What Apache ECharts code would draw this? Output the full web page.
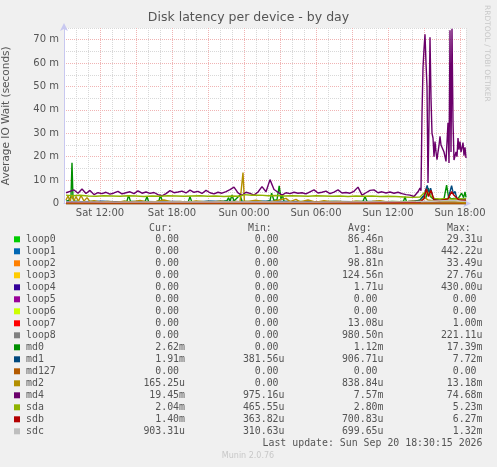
<!DOCTYPE html>
<html>
<head>
<meta charset="utf-8">
<script src="https://cdn.jsdelivr.net/npm/echarts@6/dist/echarts.min.js"></script>
<style>
  html, body { margin: 0; padding: 0; background: #f0f0f0; }
  #chart { width: 497px; height: 467px; }
</style>
</head>
<body>
<div id="chart"></div>
<script>
// times are minutes since Sat 00:00, values in milliseconds (m)
const names = ['loop0', 'loop1', 'loop2', 'loop3', 'loop4', 'loop5', 'loop6', 'loop7', 'loop8',
  'md0', 'md1', 'md127', 'md2', 'md4', 'sda', 'sdb', 'sdc'];
const colors = ['#00cc00', '#0066b3', '#ff8000', '#ffcc00', '#330099', '#990099', '#ccff00', '#ff0000', '#808080',
  '#008f00', '#00487d', '#b35a00', '#b38f00', '#6b006b', '#8fb300', '#b30000', '#bebebe'];

const curVals = ['0.00', '0.00', '0.00', '0.00', '0.00', '0.00', '0.00', '0.00', '0.00',
  '2.62m', '1.91m', '0.00', '165.25u', '19.45m', '2.04m', '1.40m', '903.31u'];
const minVals = ['0.00', '0.00', '0.00', '0.00', '0.00', '0.00', '0.00', '0.00', '0.00',
  '0.00', '381.56u', '0.00', '0.00', '975.16u', '465.55u', '363.82u', '310.63u'];
const avgVals = ['86.46n', '1.88u', '98.81n', '124.56n', '1.71u', '0.00', '0.00', '13.08u', '980.50n',
  '1.12m', '906.71u', '0.00', '838.84u', '7.57m', '2.80m', '700.83u', '699.65u'];
const maxVals = ['29.31u', '442.22u', '33.49u', '27.76u', '430.00u', '0.00', '0.00', '1.00m', '221.11u',
  '17.39m', '7.72m', '0.00', '13.18m', '74.68m', '5.23m', '6.27m', '1.32m'];

// loop devices and md127 stay at (practically) zero
const flatZero = [[550, 0], [2550, 0]];

const md0 = [[550,0.9],[565,1.4],[575,3.0],[580,17.39],[585,2.0],[595,1.0],[630,0.6],[670,0.9],[710,0.7],[750,0.8],
  [790,0.5],[830,0.8],[855,1.0],[863,3.6],[872,1.0],[910,0.7],[945,0.8],[955,2.9],[963,0.8],[1000,0.7],[1015,1.2],
  [1022,3.6],[1030,1.4],[1060,0.7],[1100,0.6],[1140,0.8],[1162,0.9],[1170,2.9],[1178,0.9],[1220,0.7],[1260,0.9],
  [1300,0.8],[1340,1.0],[1355,1.2],[1363,2.5],[1370,1.0],[1380,3.6],[1390,1.1],[1420,3.6],[1430,1.0],[1470,0.8],
  [1510,0.9],[1550,0.8],[1570,1.2],[1578,4.4],[1590,1.3],[1605,1.6],[1616,7.5],[1625,2.0],[1632,3.6],[1640,1.0],
  [1680,0.8],[1720,0.9],[1760,0.7],[1800,0.8],[1840,0.7],[1880,0.9],[1920,0.8],[1960,0.7],[2000,0.9],[2035,1.0],
  [2045,3.0],[2055,0.9],[2100,0.8],[2140,0.7],[2180,0.9],[2220,0.8],[2238,1.0],[2245,2.9],[2252,0.9],[2290,0.8],
  [2320,1.5],[2335,3.0],[2350,2.5],[2362,6.5],[2372,3.0],[2385,2.0],[2400,1.5],[2420,1.5],[2440,2.0],[2453,7.9],
  [2462,3.0],[2475,2.0],[2490,2.2],[2510,2.0],[2528,4.4],[2538,2.5],[2545,5.0],[2550,2.62]];

const md1 = [[550,0.9],[640,0.8],[730,1.0],[820,0.7],[910,0.9],[1000,0.8],[1090,0.9],[1180,0.7],[1270,1.0],
  [1360,0.9],[1450,0.8],[1540,1.0],[1630,0.9],[1720,0.8],[1810,0.7],[1900,0.9],[1990,0.8],[2080,0.9],[2170,0.8],
  [2260,0.9],[2320,1.2],[2340,3.5],[2356,7.72],[2365,4.0],[2373,6.5],[2385,2.5],[2400,1.5],[2430,1.3],[2460,2.0],
  [2470,5.0],[2478,7.6],[2487,4.0],[2495,5.2],[2505,2.0],[2530,1.8],[2550,1.91]];

const md2 = [[550,1.5],[560,3.2],[570,1.0],[580,3.5],[590,1.2],[600,3.0],[612,0.9],[625,3.4],[640,1.0],[655,2.5],
  [670,0.8],[690,1.2],[720,0.6],[760,0.9],[800,0.5],[840,1.0],[880,0.7],[920,1.3],[960,0.6],[1000,0.9],[1040,1.5],
  [1080,0.7],[1120,0.9],[1160,0.6],[1200,1.1],[1240,0.8],[1280,0.6],[1320,1.0],[1360,0.7],[1400,0.9],[1420,0.7],
  [1430,1.0],[1435,13.18],[1442,0.9],[1460,0.9],[1500,1.4],[1540,0.7],[1580,0.8],[1620,1.6],[1650,2.2],[1670,0.8],
  [1700,1.8],[1720,0.7],[1760,1.5],[1800,0.6],[1840,1.2],[1880,0.8],[1920,0.9],[1960,0.6],[2000,1.0],[2040,0.7],
  [2080,0.9],[2120,1.2],[2160,0.6],[2200,0.8],[2240,0.7],[2280,1.0],[2320,0.9],[2345,2.5],[2360,1.5],[2400,1.0],
  [2440,0.8],[2480,0.9],[2520,0.6],[2550,0.17]];

const md4 = [[550,4.6],[570,5.2],[590,5.8],[610,4.4],[630,6.2],[650,4.3],[670,5.6],[690,3.8],[710,4.6],[730,4.2],
  [750,4.8],[770,4.0],[790,4.5],[810,5.2],[830,4.1],[850,4.6],[870,5.0],[890,4.2],[910,5.4],[930,4.4],[950,4.9],
  [970,4.3],[990,4.7],[1010,3.8],[1030,3.3],[1050,4.2],[1070,5.5],[1090,4.6],[1110,4.9],[1130,5.3],[1150,4.5],
  [1170,5.7],[1190,4.8],[1210,5.2],[1230,4.3],[1250,5.6],[1270,4.6],[1290,4.1],[1310,4.8],[1330,4.4],[1350,5.1],
  [1370,5.9],[1390,7.0],[1410,4.5],[1430,3.5],[1450,4.8],[1470,4.3],[1490,3.6],[1510,4.9],[1530,7.2],[1550,5.0],
  [1570,10.2],[1590,6.0],[1610,4.8],[1630,3.6],[1650,4.6],[1670,4.2],[1690,4.8],[1710,4.4],[1730,4.6],[1750,4.1],
  [1770,5.0],[1790,5.8],[1810,4.5],[1830,4.8],[1850,5.3],[1870,4.2],[1890,4.9],[1910,5.8],[1930,4.5],[1950,4.7],
  [1970,4.4],[1990,5.2],[2010,7.0],[2030,3.6],[2050,4.6],[2070,5.6],[2090,5.8],[2110,4.6],[2130,5.0],[2150,4.5],
  [2170,4.9],[2190,4.4],[2210,4.8],[2230,4.2],[2250,3.8],[2270,3.6],[2290,3.0],[2310,5.0],
  [2320,6.6],[2325,5.5],[2330,38],[2335,58],[2340,66],[2345,72.3],[2350,60],[2355,50],[2360,8.8],[2365,35],
  [2370,71],[2375,45],[2380,30],[2385,28],[2390,20],[2395,26.5],[2400,22],[2405,18.7],[2410,22],[2415,24.8],
  [2420,28.7],[2425,25],[2430,24.4],[2435,25.8],[2440,22],[2445,20],[2450,18],[2455,17.2],[2460,34.5],[2465,17.3],
  [2470,74.0],[2475,22],[2480,74.68],[2485,35],[2490,18.6],[2495,19],[2500,22],[2505,20],[2510,28],[2515,23],
  [2520,26.5],[2525,22],[2530,23.8],[2535,26],[2540,20.4],[2545,24],[2550,19.45]];

const sda = [[550,3.6],[580,3.3],[620,3.5],[660,3.2],[700,3.1],[740,3.3],[780,3.2],[820,3.1],[860,3.3],[900,3.2],
  [940,3.0],[980,3.2],[1020,3.1],[1060,3.3],[1100,3.2],[1140,3.1],[1180,3.2],[1220,3.3],[1260,3.1],[1300,3.2],
  [1340,3.0],[1380,3.2],[1420,3.1],[1440,3.8],[1480,3.5],[1520,3.6],[1560,3.3],[1600,3.4],[1640,3.2],[1680,3.3],
  [1720,3.2],[1760,3.1],[1800,3.3],[1840,3.2],[1880,3.1],[1920,3.2],[1960,3.0],[2000,3.2],[2040,3.1],[2080,3.2],
  [2120,3.0],[2160,3.1],[2200,3.0],[2240,2.8],[2280,2.6],[2320,2.8],[2340,4.5],[2355,5.23],[2370,3.5],[2390,2.2],
  [2420,1.9],[2450,2.1],[2480,1.8],[2510,2.0],[2530,1.9],[2550,2.04]];

const sdb = [[550,0.5],[700,0.45],[850,0.5],[1000,0.4],[1150,0.5],[1300,0.45],[1450,0.5],[1600,0.4],[1750,0.5],
  [1900,0.45],[2050,0.5],[2200,0.45],[2320,0.6],[2340,2.0],[2352,6.27],[2362,3.0],[2375,5.6],[2390,1.5],[2420,1.2],
  [2460,2.0],[2478,5.1],[2490,3.5],[2500,4.0],[2515,1.5],[2535,1.3],[2550,1.40]];

const sdc = [[550,0.7],[800,0.6],[1050,0.7],[1300,0.65],[1550,0.7],[1800,0.6],[2050,0.7],[2300,0.8],[2400,1.1],
  [2480,1.3],[2550,0.9]];

const seriesData = [flatZero, flatZero, flatZero, flatZero, flatZero, flatZero, flatZero, flatZero, flatZero,
  md0, md1, flatZero, md2, md4, sda, sdb, sdc];

const chart = echarts.init(document.getElementById('chart'));

const sans = 'DejaVu Sans';
const mono = 'DejaVu Sans Mono';
const textColor = '#555';
const redGrid = '#f0b4b4';
const grayGrid = '#d8d8d8';

function pad(n) { return (n < 10 ? '0' : '') + n; }

// legend table below the plot
const graphics = [];
const rowY0 = 239.3, rowStep = 12;
const colRight = [185, 284.5, 383.5, 482.5];
const headers = ['Cur:', 'Min:', 'Avg:', 'Max:'];
const headerX = [149, 248, 348, 447];
const charW = 5.96;
headers.forEach((h, j) => {
  graphics.push({ type: 'text', x: headerX[j], y: 228,
    style: { text: h, font: '9.9px "' + mono + '"', fill: textColor, textAlign: 'left', textVerticalAlign: 'middle' } });
});
names.forEach((n, i) => {
  const y = rowY0 + i * rowStep;
  graphics.push({ type: 'rect', shape: { x: 14, y: y - 3, width: 6, height: 6 }, style: { fill: colors[i] } });
  graphics.push({ type: 'text', x: 26, y: y,
    style: { text: n, font: '9.9px "' + mono + '"', fill: textColor, textAlign: 'left', textVerticalAlign: 'middle' } });
  [curVals, minVals, avgVals, maxVals].forEach((col, j) => {
    const v = col[i];
    const hasUnit = /[a-z]$/i.test(v);
    graphics.push({ type: 'text', x: colRight[j] - (hasUnit ? 0 : charW), y: y,
      style: { text: v, font: '9.9px "' + mono + '"', fill: textColor, textAlign: 'right', textVerticalAlign: 'middle' } });
  });
});
graphics.push({ type: 'text', x: 482.5, y: 443,
  style: { text: 'Last update: Sun Sep 20 18:30:15 2026', font: '9.9px "' + mono + '"', fill: textColor,
    textAlign: 'right', textVerticalAlign: 'middle' } });
graphics.push({ type: 'text', x: 248, y: 456,
  style: { text: 'Munin 2.0.76', font: '8px "' + sans + '"', fill: '#c8c8c8', textAlign: 'center', textVerticalAlign: 'middle' } });
graphics.push({ type: 'text', x: 487, y: 5, rotation: -Math.PI / 2,
  style: { text: 'RRDTOOL / TOBI OETIKER', font: '7.5px "' + sans + '"', fill: '#c8c8c8', textAlign: 'left', textVerticalAlign: 'middle' } });

const options = {
  animation: false,
  backgroundColor: '#f0f0f0',
  title: {
    text: 'Disk latency per device - by day',
    left: 'center',
    top: 11,
    padding: 0,
    textStyle: { fontFamily: sans, fontSize: 12.5, fontWeight: 'normal', color: textColor },
  },
  grid: {
    left: 64, right: 31, top: 28, bottom: 263.5,
    outerBoundsMode: 'none',
    containLabel: false,
    show: true, backgroundColor: '#ffffff', borderWidth: 0,
  },
  xAxis: {
    type: 'value',
    min: 540,
    max: 2550,
    interval: 60,
    axisLine: { show: true, lineStyle: { color: '#c8c8f0', width: 1 }, symbol: ['none', 'arrow'], symbolSize: [6, 8], symbolOffset: [0, 5] },
    axisTick: { show: false },
    axisLabel: {
      margin: 5,
      fontFamily: sans, fontSize: 10, color: textColor,
      formatter: (v) => {
        if (v % 360 !== 0) return '';
        const day = v < 1440 ? 'Sat' : 'Sun';
        return day + ' ' + pad(Math.floor(v / 60) % 24) + ':00';
      },
    },
    splitLine: { show: true, lineStyle: { type: 'dotted', width: 1, color: [redGrid, grayGrid, grayGrid] } },
  },
  yAxis: {
    type: 'value',
    min: 0,
    max: 75,
    interval: 5,
    name: 'Average IO Wait (seconds)',
    nameLocation: 'middle',
    nameGap: 52,
    nameTextStyle: { fontFamily: sans, fontSize: 10.5, color: textColor },
    axisLine: { show: true, lineStyle: { color: '#c8c8f0', width: 1 }, symbol: ['none', 'arrow'], symbolSize: [6, 8], symbolOffset: [0, 5] },
    axisTick: { show: false },
    axisLabel: {
      margin: 5,
      fontFamily: sans, fontSize: 10, color: textColor,
      formatter: (v) => (v % 10 !== 0 ? '' : (v === 0 ? '0' : v + ' m')),
    },
    splitLine: { show: true, lineStyle: { type: 'dotted', width: 1, color: [redGrid, grayGrid] } },
  },
  series: names.map((n, i) => ({
    name: n,
    type: 'line',
    data: seriesData[i],
    showSymbol: false,
    silent: true,
    lineStyle: { width: 1.4, color: colors[i] },
    itemStyle: { color: colors[i] },
  })),
  graphic: graphics,
};

chart.setOption(options);
</script>
</body>
</html>
